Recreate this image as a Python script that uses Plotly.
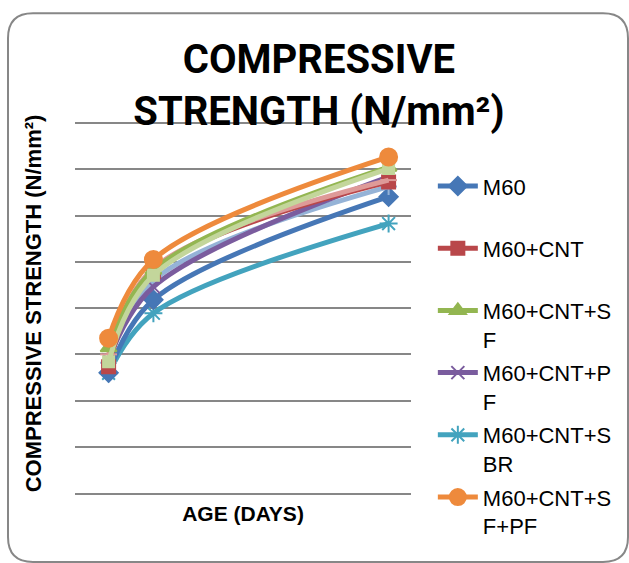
import plotly.graph_objects as go

days = [3, 7, 28]
series_names = ["M60", "M60+CNT", "M60+CNT+SF", "M60+CNT+PF", "M60+CNT+SBR", "M60+CNT+SF+PF",
                "Series7", "Series8", "Series9"]
legend_labels = ["M60<br> ", "M60+CNT<br> ", "M60+CNT+S<br>F", "M60+CNT+P<br>F",
                 "M60+CNT+S<br>BR", "M60+CNT+S<br>F+PF", "", "", ""]
m60 = [26.0, 41.8, 64.1]
m60_cnt = [27.3, 47.9, 67.3]
m60_cnt_sf = [31.4, 48.2, 70.5]
m60_cnt_pf = [28.8, 44.6, 68.4]
m60_cnt_sbr = [25.9, 38.9, 58.3]
m60_cnt_sf_pf = [33.5, 50.5, 72.7]
s7 = [28.2, 46.0, 66.3]
s8 = [30.0, 48.6, 67.7]
s9 = [28.4, 47.1, 70.2]
values = [m60, m60_cnt, m60_cnt_sf, m60_cnt_pf, m60_cnt_sbr, m60_cnt_sf_pf, s7, s8, s9]
colors = ["#4677B6", "#B9474A", "#93B651", "#7A5C9E", "#43A3BE", "#EE8A3C",
          "#95B3D7", "#DE9A98", "#C3D69B"]
symbols = ["diamond", "square", "triangle-up", "x-thin-open", "asterisk-open", "circle",
           "cross-thin-open", "line-ew-open", "square"]
sizes = [14, 13, 14, 13, 15, 17, 12, 12, 11]
show = [True] * 6 + [False] * 3

FONT = "Roboto"
LFONT = "Liberation Sans"
fig = go.Figure()
order = [4, 0, 6, 3, 1, 7, 2, 8, 5]
for i in order:
    fig.add_trace(go.Scatter(
        x=days, y=values[i], name=legend_labels[i] if show[i] else series_names[i],
        mode="lines+markers", line=dict(color=colors[i], width=5, shape="spline"),
        marker=dict(symbol=symbols[i], size=sizes[i], color=colors[i],
                    line=dict(color=colors[i], width=2)),
        showlegend=show[i], legendgroup=series_names[i], legendrank=i + 1,
    ))

W, H, L, R, B = 629, 563, 75, 218, 70
T = 113.75
PH = H - T - B
grid = "#878787"
fig.update_layout(
    width=W, height=H,
    margin=dict(l=L, r=R, t=T, b=B, autoexpand=False),
    paper_bgcolor="white", plot_bgcolor="white",
    font=dict(family=FONT, color="black"),
    title=dict(text="<b>COMPRESSIVE<br>STRENGTH (N/mm²)</b>", x=0.507, xanchor="center",
               y=1 - 73 / H, yanchor="middle", yref="container",
               font=dict(size=40, family=FONT, color="black")),
    xaxis=dict(range=[0, 30], showticklabels=False, showgrid=False, zeroline=False,
               showline=True, linecolor=grid, linewidth=2, ticks="",
               title=dict(text="<b>AGE (DAYS)</b>", font=dict(size=21, family=LFONT), standoff=12)),
    yaxis=dict(range=[0, 82], tickvals=[10, 20, 30, 40, 50, 60, 70, 80],
               showticklabels=False, showgrid=True, gridcolor=grid,
               gridwidth=2, zeroline=False, showline=False, ticks="",
               title=dict(text="<b>COMPRESSIVE STRENGTH (N/mm²)</b>", font=dict(size=22, family=LFONT),
                          standoff=26)),
    legend=dict(x=1.065, xanchor="left", y=(H - B - 165) / PH, yanchor="top",
                font=dict(size=22, family=LFONT), maxheight=1000,
                valign="top", tracegroupgap=2, bgcolor="rgba(0,0,0,0)", itemwidth=40),
)

def px(x):
    return (x - L) / (W - L - R)
def py(y):
    return (H - B - y) / PH
r = 25
x0, y0, x1, y1 = 8, 13, 628, 562
path = (f"M {px(x0)} {py(y0 + r)} Q {px(x0)} {py(y0)} {px(x0 + r)} {py(y0)} "
        f"L {px(x1 - r)} {py(y0)} Q {px(x1)} {py(y0)} {px(x1)} {py(y0 + r)} "
        f"L {px(x1)} {py(y1 - r)} Q {px(x1)} {py(y1)} {px(x1 - r)} {py(y1)} "
        f"L {px(x0 + r)} {py(y1)} Q {px(x0)} {py(y1)} {px(x0)} {py(y1 - r)} Z")
fig.add_shape(type="path", xref="paper", yref="paper", path=path,
              line=dict(color="#878787", width=2), layer="below")

fig.write_html("out.html")
